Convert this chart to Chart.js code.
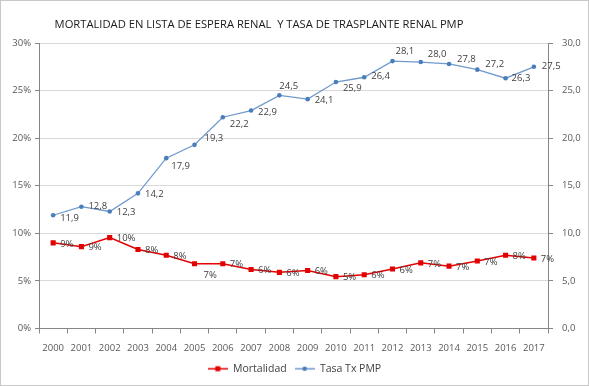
<!DOCTYPE html>
<html><head><meta charset="utf-8">
<script src="https://cdn.jsdelivr.net/npm/chart.js@4.4.1/dist/chart.umd.min.js"></script>
<style>html,body{margin:0;padding:0;background:#fff;}#wrap{width:589px;height:386px;}</style>
</head><body><div id="wrap"><canvas id="c" width="589" height="386"></canvas></div>
<script>
const chartTitle = 'MORTALIDAD EN LISTA DE ESPERA RENAL  Y TASA DE TRASPLANTE RENAL PMP';
const years = ['2000','2001','2002','2003','2004','2005','2006','2007','2008','2009','2010','2011','2012','2013','2014','2015','2016','2017'];
const mortalidad = [9.0,8.6,9.55,8.3,7.7,6.8,6.8,6.2,5.9,6.1,5.45,5.65,6.25,6.9,6.55,7.1,7.7,7.4];
const tasa = [11.9,12.8,12.3,14.2,17.9,19.3,22.2,22.9,24.5,24.1,25.9,26.4,28.1,28.0,27.8,27.2,26.3,27.5];
const seriesNames = ['Mortalidad','Tasa Tx PMP'];

// label placement (style only)
const mortLabelOffset = years.map((y,i)=> i===5 ? [9,12] : [7,1]);
const tasaLabelOffset = [[7,3],[7,0],[7,1],[7,1],[5,8],[10,-7],[7,7],[7,2],[0,-9],[7,1],[7,6],[7,-1],[3,-10],[7,-8],[8,-5],[8,-5],[6,0],[8,0]];

const RED = '#e30000', BLUE = '#4a7ebb', BLUE_LINE = '#7099cc';
const FONT = "'Open Sans', sans-serif";

function legendMarker(color, lineColor, shape){
  const c = document.createElement('canvas'); c.width = 20; c.height = 8;
  const g = c.getContext('2d');
  g.strokeStyle = lineColor; g.lineWidth = 1.5;
  g.beginPath(); g.moveTo(0,4); g.lineTo(20,4); g.stroke();
  g.fillStyle = color;
  if (shape==='rect') g.fillRect(7.5,1.5,5,5);
  else { g.beginPath(); g.arc(10,4,2.3,0,Math.PI*2); g.fill(); }
  return c;
}

const decoPlugin = {
  id:'deco',
  beforeDraw(chart){
    const ctx = chart.ctx;
    ctx.save(); ctx.fillStyle='#fff'; ctx.fillRect(0,0,chart.width,chart.height);
    ctx.strokeStyle='#c8c8c8'; ctx.lineWidth=1; ctx.strokeRect(0.5,0.5,chart.width-1,chart.height-1);
    ctx.restore();
  },
  afterDraw(chart){
    const ctx = chart.ctx;
    ctx.save();
    ctx.font = "11.2px " + FONT; ctx.fillStyle = '#1a1a1a';
    ctx.textAlign='center'; ctx.textBaseline='middle';
    ctx.fillText(chartTitle, 259, 25);
    ctx.restore();
  },
  afterDatasetsDraw(chart){
    const ctx = chart.ctx;
    ctx.save();
    ctx.font = "9.5px " + FONT; ctx.fillStyle = '#404040';
    ctx.textAlign='left'; ctx.textBaseline='middle';
    chart.data.datasets.forEach((ds,i)=>{
      const meta = chart.getDatasetMeta(i);
      meta.data.forEach((pt,j)=>{
        const off = ds.labelOffsets[j];
        ctx.fillText(ds.labelFmt(ds.data[j]), pt.x+off[0], pt.y+off[1]);
      });
    });
    ctx.restore();
  }
};

const markers = [legendMarker(RED,RED,'rect'), legendMarker(BLUE,BLUE_LINE,'circle')];

new Chart(document.getElementById('c'), {
  type:'line',
  data:{
    labels: years,
    datasets:[
      {label:seriesNames[0], data:mortalidad, yAxisID:'y', borderColor:RED, backgroundColor:RED,
       borderWidth:1.5, pointStyle:'rect', pointRadius:3.6, pointBorderWidth:0, pointBackgroundColor:RED,
       tension:0, labelOffsets:mortLabelOffset, labelFmt:v=>Math.round(v)+'%'},
      {label:seriesNames[1], data:tasa, yAxisID:'y1', borderColor:BLUE_LINE, backgroundColor:BLUE,
       borderWidth:1.3, pointStyle:'circle', pointRadius:2.3, pointBorderWidth:0, pointBackgroundColor:BLUE,
       tension:0, labelOffsets:tasaLabelOffset, labelFmt:v=>v.toFixed(1).replace('.',',')}
    ]
  },
  options:{
    responsive:false, animation:false, devicePixelRatio:1,
    layout:{padding:{top:43,left:0,right:0,bottom:2}},
    plugins:{
      title:{display:false}, tooltip:{enabled:false},
      legend:{position:'bottom', labels:{
        font:{family:FONT,size:10.5}, color:'#404040', usePointStyle:true, pointStyleWidth:20, boxHeight:8, padding:8,
        generateLabels:(chart)=>chart.data.datasets.map((ds,i)=>({text:ds.label, pointStyle:markers[i], datasetIndex:i, fontColor:'#404040', lineWidth:0, strokeStyle:'transparent', fillStyle:'transparent'}))
      }}
    },
    scales:{
      x:{offset:true,
        grid:{display:true, drawOnChartArea:false, offset:true, tickLength:5, color:'#868686', tickColor:'#868686'},
        border:{color:'#868686'},
        ticks:{font:{family:FONT,size:9.5}, color:'#595959', padding:9.5, maxRotation:0, autoSkip:false},
        afterFit:(s)=>{s.height=27;}
      },
      y:{position:'left', min:0, max:30,
        ticks:{stepSize:5, callback:v=>v+'%', font:{family:FONT,size:9.5}, color:'#595959', padding:4},
        grid:{color:'#d9d9d9', tickColor:'#868686', tickLength:4},
        border:{color:'#868686'},
        afterFit:(s)=>{s.width=39;}
      },
      y1:{position:'right', min:0, max:30,
        ticks:{stepSize:5, callback:v=>v.toFixed(1).replace('.',','), font:{family:FONT,size:9.5}, color:'#595959', padding:9},
        grid:{drawOnChartArea:false, tickColor:'#868686', tickLength:5},
        border:{color:'#868686'},
        afterFit:(s)=>{s.width=41;}
      }
    }
  },
  plugins:[decoPlugin]
});
</script></body></html>
